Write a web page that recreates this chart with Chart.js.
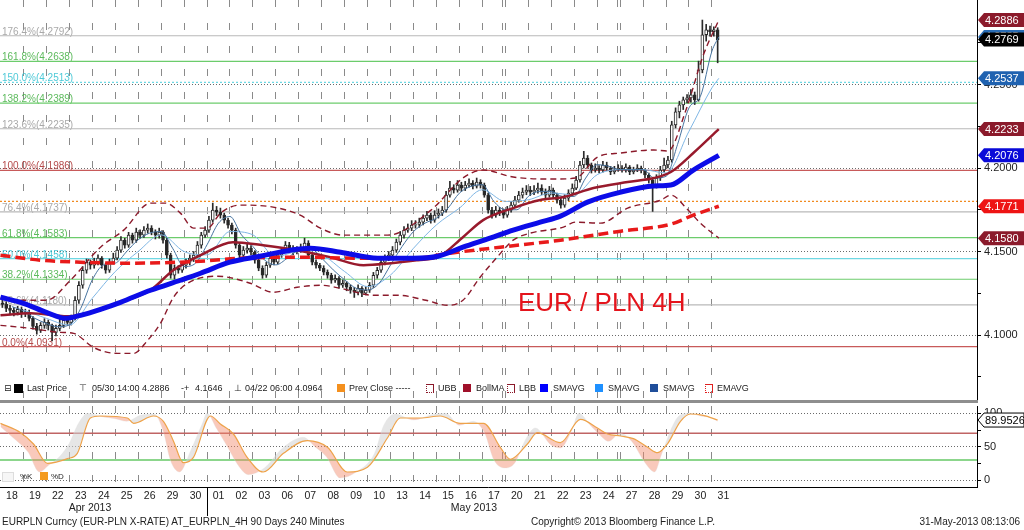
<!DOCTYPE html>
<html><head><meta charset="utf-8"><title>EURPLN 4H</title>
<script src="https://cdn.jsdelivr.net/npm/chart.js@4.4.1/dist/chart.umd.min.js"></script>
<style>
html,body{margin:0;padding:0;background:#fff;}
body{width:1024px;height:530px;position:relative;overflow:hidden;font-family:"Liberation Sans",Arial,sans-serif;color:#222;}
canvas{position:absolute;left:0;}
#c1{top:0;} #c2{top:403px;}
#sep{position:absolute;left:0;top:400px;width:978px;height:3px;background:#8e8e8e;}
.t{position:absolute;white-space:nowrap;line-height:11px;}
.lg{top:383px;font-size:9px;}
.sq{position:absolute;width:8px;height:8px;top:384px;}
.bx{position:absolute;width:6px;height:7px;top:384px;border-top:1px solid #8b1a2b;border-right:1px solid #8b1a2b;border-bottom:1px dotted #8b1a2b;border-left:1px dotted #8b1a2b;}
.ft{top:516px;font-size:10px;line-height:12px;}
</style></head><body>
<canvas id="c1" width="1024" height="400"></canvas>
<div id="sep"></div>
<canvas id="c2" width="1024" height="127"></canvas>

<span class="t lg" style="left:4px;font-family:'DejaVu Sans'">⊟</span>
<div class="sq" style="left:14px;background:#000;width:9px;height:9px;"></div>
<span class="t lg" style="left:27px">Last Price</span>
<span class="t lg" style="left:79px;font-family:'DejaVu Sans'">⊤</span>
<span class="t lg" style="left:92px">05/30 14:00 4.2886</span>
<span class="t lg" style="left:181px">-+</span>
<span class="t lg" style="left:195px">4.1646</span>
<span class="t lg" style="left:234px;font-family:'DejaVu Sans'">⊥</span>
<span class="t lg" style="left:245px">04/22 06:00 4.0964</span>
<div class="sq" style="left:337px;background:#f4901e"></div>
<span class="t lg" style="left:349px">Prev Close -----</span>
<div class="bx" style="left:426px"></div>
<span class="t lg" style="left:438px">UBB</span>
<div class="sq" style="left:463px;background:#a0102a"></div>
<span class="t lg" style="left:476px">BollMA</span>
<div class="bx" style="left:507px"></div>
<span class="t lg" style="left:519px">LBB</span>
<div class="sq" style="left:540px;background:#0000ff"></div>
<span class="t lg" style="left:553px">SMAVG</span>
<div class="sq" style="left:595px;background:#1e90ff"></div>
<span class="t lg" style="left:608px">SMAVG</span>
<div class="sq" style="left:650px;background:#1f4e9a"></div>
<span class="t lg" style="left:663px">SMAVG</span>
<div class="bx" style="left:705px;border-color:#e02020"></div>
<span class="t lg" style="left:717px">EMAVG</span>

<div style="position:absolute;left:2px;top:472px;width:10px;height:8px;background:#f6f6f6;border:1px solid #ddd"></div>
<span class="t" style="left:20px;top:471px;font-size:8px">%K</span>
<div style="position:absolute;left:40px;top:472px;width:8px;height:8px;background:#f49a1e"></div>
<span class="t" style="left:51px;top:471px;font-size:8px">%D</span>

<span class="t ft" style="left:2px">EURPLN Curncy (EUR-PLN X-RATE) AT_EURPLN_4H 90 Days 240 Minutes</span>
<span class="t ft" style="left:531px">Copyright© 2013 Bloomberg Finance L.P.</span>
<span class="t ft" style="right:4px">31-May-2013 08:13:06</span>

<script>
// ---------- DATA ----------
const dayLabels = ['18','19','22','23','24','25','26','29','30','01','02','03','06','07','08','09','10','13','14','15','16','17','20','21','22','23','24','27','28','29','30','31'];
const monthLabels = ['Apr 2013', 'May 2013'];
const monthAnchors = [3.9, 20.63];   // in trading-day units

// 4-hour candles, 6 per trading day
const opens = [
4.1190,4.1184,4.1160,4.1148,4.1136,4.1154, 4.1130,4.1136,4.1100,4.1052,4.1028,4.1058,
4.1076,4.1058,4.1016,4.1040,4.1058,4.1088, 4.1076,4.1100,4.1208,4.1298,4.1388,4.1436,
4.1418,4.1436,4.1460,4.1418,4.1388,4.1436, 4.1460,4.1508,4.1568,4.1538,4.1598,4.1568,
4.1616,4.1598,4.1628,4.1640,4.1616,4.1598, 4.1616,4.1568,4.1478,4.1358,4.1400,4.1388,
4.1418,4.1436,4.1460,4.1478,4.1538,4.1598, 4.1628,4.1688,4.1748,4.1736,4.1718,4.1688,
4.1658,4.1628,4.1538,4.1478,4.1508,4.1520, 4.1496,4.1448,4.1400,4.1358,4.1418,4.1460,
4.1436,4.1478,4.1508,4.1538,4.1520,4.1496, 4.1508,4.1520,4.1550,4.1478,4.1436,4.1418,
4.1400,4.1376,4.1358,4.1328,4.1340,4.1298, 4.1310,4.1286,4.1268,4.1256,4.1280,4.1250,
4.1268,4.1298,4.1358,4.1388,4.1436,4.1460, 4.1478,4.1508,4.1556,4.1598,4.1628,4.1640,
4.1658,4.1662,4.1676,4.1700,4.1718,4.1688, 4.1718,4.1730,4.1748,4.1838,4.1880,4.1868,
4.1898,4.1880,4.1898,4.1910,4.1892,4.1916, 4.1898,4.1838,4.1748,4.1718,4.1748,4.1736,
4.1718,4.1748,4.1778,4.1808,4.1838,4.1856, 4.1868,4.1856,4.1868,4.1880,4.1856,4.1838,
4.1868,4.1838,4.1808,4.1778,4.1820,4.1850, 4.1880,4.1928,4.2018,4.2060,4.2018,4.1988,
4.2000,4.1988,4.2018,4.2000,4.1976,4.1988, 4.2000,4.1988,4.2006,4.1976,4.1988,4.2000,
4.1988,4.1958,4.1928,4.1898,4.1940,4.1988, 4.2018,4.2048,4.2258,4.2336,4.2378,4.2408,
4.2420,4.2438,4.2408,4.2588,4.2798,4.2828, 4.2816,4.2828];
const closes = [
4.1184,4.1160,4.1148,4.1136,4.1154,4.1130, 4.1136,4.1100,4.1052,4.1028,4.1058,4.1076,
4.1058,4.1016,4.1040,4.1058,4.1088,4.1076, 4.1100,4.1208,4.1298,4.1388,4.1436,4.1418,
4.1436,4.1460,4.1418,4.1388,4.1436,4.1460, 4.1508,4.1568,4.1538,4.1598,4.1568,4.1616,
4.1598,4.1628,4.1640,4.1616,4.1598,4.1616, 4.1568,4.1478,4.1358,4.1400,4.1388,4.1418,
4.1436,4.1460,4.1478,4.1538,4.1598,4.1628, 4.1688,4.1748,4.1736,4.1718,4.1688,4.1658,
4.1628,4.1538,4.1478,4.1508,4.1520,4.1496, 4.1448,4.1400,4.1358,4.1418,4.1460,4.1436,
4.1478,4.1508,4.1538,4.1520,4.1496,4.1508, 4.1520,4.1550,4.1478,4.1436,4.1418,4.1400,
4.1376,4.1358,4.1328,4.1340,4.1298,4.1310, 4.1286,4.1268,4.1256,4.1280,4.1250,4.1268,
4.1298,4.1358,4.1388,4.1436,4.1460,4.1478, 4.1508,4.1556,4.1598,4.1628,4.1640,4.1658,
4.1662,4.1676,4.1700,4.1718,4.1688,4.1718, 4.1730,4.1748,4.1838,4.1880,4.1868,4.1898,
4.1880,4.1898,4.1910,4.1892,4.1916,4.1898, 4.1838,4.1748,4.1718,4.1748,4.1736,4.1718,
4.1748,4.1778,4.1808,4.1838,4.1856,4.1868, 4.1856,4.1868,4.1880,4.1856,4.1838,4.1868,
4.1838,4.1808,4.1778,4.1820,4.1850,4.1880, 4.1928,4.2018,4.2060,4.2018,4.1988,4.2000,
4.1988,4.2018,4.2000,4.1976,4.1988,4.2000, 4.1988,4.2006,4.1976,4.1988,4.2000,4.1988,
4.1958,4.1928,4.1898,4.1940,4.1988,4.2018, 4.2048,4.2258,4.2336,4.2378,4.2408,4.2420,
4.2438,4.2408,4.2588,4.2798,4.2828,4.2816, 4.2828,4.2769];
const highs = [
4.1215,4.1200,4.1178,4.1165,4.1172,4.1168, 4.1155,4.1150,4.1110,4.1070,4.1075,4.1098,
4.1090,4.1065,4.1060,4.1110,4.1105,4.1100, 4.1120,4.1230,4.1320,4.1410,4.1455,4.1450,
4.1460,4.1480,4.1470,4.1430,4.1455,4.1490, 4.1530,4.1590,4.1580,4.1615,4.1610,4.1640,
4.1630,4.1650,4.1665,4.1655,4.1630,4.1640, 4.1625,4.1580,4.1490,4.1420,4.1415,4.1440,
4.1455,4.1480,4.1500,4.1560,4.1615,4.1650, 4.1710,4.1790,4.1770,4.1760,4.1730,4.1700,
4.1670,4.1640,4.1555,4.1530,4.1545,4.1535, 4.1505,4.1460,4.1415,4.1435,4.1480,4.1475,
4.1500,4.1525,4.1560,4.1555,4.1535,4.1530, 4.1545,4.1580,4.1565,4.1490,4.1450,4.1430,
4.1415,4.1390,4.1370,4.1360,4.1350,4.1330, 4.1320,4.1300,4.1285,4.1300,4.1290,4.1290,
4.1315,4.1375,4.1405,4.1455,4.1480,4.1500, 4.1530,4.1575,4.1620,4.1650,4.1665,4.1685,
4.1685,4.1700,4.1720,4.1740,4.1730,4.1745, 4.1755,4.1770,4.1860,4.1920,4.1900,4.1925,
4.1915,4.1920,4.1935,4.1925,4.1940,4.1930, 4.1910,4.1850,4.1765,4.1770,4.1765,4.1755,
4.1770,4.1800,4.1830,4.1860,4.1880,4.1895, 4.1890,4.1895,4.1910,4.1900,4.1875,4.1890,
4.1880,4.1850,4.1820,4.1840,4.1870,4.1905, 4.1950,4.2040,4.2100,4.2075,4.2030,4.2025,
4.2015,4.2040,4.2035,4.2010,4.2010,4.2020, 4.2015,4.2025,4.2015,4.2005,4.2020,4.2012,
4.1995,4.1970,4.1940,4.1960,4.2010,4.2060, 4.2070,4.2280,4.2360,4.2400,4.2425,4.2440,
4.2470,4.2455,4.2640,4.2886,4.2860,4.2850, 4.2845,4.2840];
const lows = [
4.1165,4.1140,4.1120,4.1115,4.1120,4.1105, 4.1110,4.1085,4.1035,4.1005,4.1015,4.1040,
4.1030,4.0964,4.0995,4.1025,4.1045,4.1060, 4.1060,4.1090,4.1190,4.1280,4.1370,4.1395,
4.1400,4.1420,4.1400,4.1370,4.1375,4.1425, 4.1450,4.1495,4.1520,4.1525,4.1550,4.1555,
4.1580,4.1585,4.1610,4.1600,4.1575,4.1580, 4.1550,4.1460,4.1340,4.1335,4.1370,4.1375,
4.1400,4.1420,4.1440,4.1465,4.1520,4.1585, 4.1615,4.1675,4.1715,4.1700,4.1670,4.1640,
4.1605,4.1520,4.1455,4.1465,4.1490,4.1480, 4.1430,4.1385,4.1340,4.1345,4.1405,4.1420,
4.1425,4.1465,4.1495,4.1505,4.1480,4.1485, 4.1495,4.1505,4.1465,4.1420,4.1400,4.1385,
4.1360,4.1340,4.1310,4.1315,4.1280,4.1285, 4.1265,4.1250,4.1225,4.1240,4.1230,4.1240,
4.1255,4.1285,4.1340,4.1375,4.1420,4.1445, 4.1465,4.1495,4.1540,4.1580,4.1615,4.1625,
4.1640,4.1645,4.1660,4.1685,4.1670,4.1675, 4.1700,4.1715,4.1735,4.1825,4.1850,4.1855,
4.1860,4.1865,4.1885,4.1875,4.1880,4.1880, 4.1825,4.1730,4.1700,4.1705,4.1715,4.1700,
4.1705,4.1735,4.1765,4.1795,4.1820,4.1840, 4.1835,4.1840,4.1850,4.1840,4.1820,4.1825,
4.1820,4.1790,4.1760,4.1765,4.1805,4.1835, 4.1870,4.1915,4.2000,4.2000,4.1970,4.1975,
4.1970,4.1975,4.1985,4.1960,4.1965,4.1980, 4.1975,4.1975,4.1960,4.1965,4.1978,4.1970,
4.1940,4.1910,4.1740,4.1880,4.1925,4.1975, 4.2000,4.2035,4.2240,4.2300,4.2350,4.2390,
4.2395,4.2380,4.2400,4.2570,4.2760,4.2790, 4.2790,4.2630];

// indicators: [trading day, value]
const smaThick = [[0,4.1226],[1,4.1190],[2,4.1136],[2.84,4.1100],[3.49,4.1118],[4.36,4.1154],[5.23,4.1196],[6.54,4.1268],[7.84,4.1328],[8.72,4.1370],[10.0,4.1436],[11.31,4.1472],[12.64,4.1508],[13.5,4.1520],[14.82,4.1496],[16.44,4.1460],[18.0,4.1460],[19.06,4.1472],[20.15,4.1526],[21.33,4.1580],[22.34,4.1628],[23.52,4.1676],[24.4,4.1712],[25.58,4.1796],[27.03,4.1856],[28.47,4.1892],[29.21,4.1898],[30.19,4.1988],[31.3,4.2076]];
const emaLine = [[0,4.1478],[1.75,4.1448],[3.48,4.1436],[5.65,4.1430],[8.72,4.1442],[10.44,4.1460],[13.06,4.1466],[15.69,4.1460],[18.01,4.1460],[19.58,4.1490],[21.77,4.1526],[24.4,4.1568],[27.03,4.1622],[29.21,4.1664],[30.19,4.1718],[31.3,4.1771]];
const bollMA = [[0,4.1118],[1.31,4.1130],[2.92,4.1112],[3.92,4.1136],[5.1,4.1190],[6.53,4.1268],[7.53,4.1388],[8.72,4.1478],[10.13,4.1556],[11.44,4.1538],[12.93,4.1508],[14.38,4.1466],[15.82,4.1418],[17.01,4.1430],[18.19,4.1448],[19.06,4.1466],[20.15,4.1586],[21.03,4.1688],[22.34,4.1760],[23.52,4.1808],[24.53,4.1826],[25.84,4.1880],[27.33,4.1916],[28.47,4.1940],[29.21,4.1976],[30.19,4.2090],[31.3,4.2233]];
const upperBand = [[0,4.1220],[1.0,4.1208],[2.0,4.1208],[3.05,4.1328],[4.36,4.1526],[5.37,4.1628],[6.54,4.1790],[7.19,4.1790],[7.84,4.1730],[8.41,4.1640],[9.02,4.1640],[9.59,4.1730],[10.44,4.1778],[11.88,4.1766],[13.06,4.1718],[13.94,4.1640],[14.95,4.1598],[16.87,4.1598],[18.76,4.1748],[20.15,4.1940],[21.03,4.1988],[22.34,4.1946],[24.09,4.1934],[25.06,4.1940],[26.02,4.2066],[27.03,4.2090],[28.47,4.2108],[29.08,4.2102],[29.87,4.2348],[30.63,4.2678],[31.3,4.2886]];
const lowerBand = [[0,4.1058],[1.31,4.1040],[2.62,4.1016],[3.19,4.1010],[4.05,4.0926],[5.1,4.0890],[5.8,4.0890],[6.41,4.0968],[6.97,4.1070],[7.54,4.1226],[8.15,4.1310],[9.46,4.1352],[10.88,4.1310],[11.88,4.1256],[12.93,4.1286],[13.94,4.1298],[14.82,4.1280],[16.26,4.1238],[17.31,4.1238],[18.54,4.1208],[19.5,4.1178],[20.15,4.1208],[20.9,4.1346],[21.64,4.1466],[22.34,4.1568],[23.08,4.1610],[24.53,4.1646],[25.06,4.1676],[26.15,4.1670],[27.33,4.1760],[28.78,4.1808],[29.21,4.1838],[29.96,4.1748],[30.5,4.1670],[31.3,4.1580]];
const smaMedium = [[1,4.1150],[2,4.1100],[3,4.1060],[4,4.1220],[5,4.1380],[6,4.1500],[7,4.1600],[8,4.1500],[9,4.1480],[10,4.1620],[11,4.1600],[12,4.1470],[13,4.1500],[14,4.1480],[15,4.1380],[16,4.1290],[17,4.1360],[18,4.1520],[19,4.1660],[20,4.1760],[21,4.1870],[22,4.1800],[23,4.1810],[24,4.1850],[25,4.1840],[26,4.1960],[27,4.1990],[28,4.1990],[29,4.1970],[30,4.2220],[31,4.2480],[31.3,4.2537]];
const smaFast = [[0.5,4.117],[1,4.1145],[1.5,4.110],[2,4.107],[2.5,4.105],[3,4.106],[3.5,4.116],[4,4.133],[4.5,4.142],[5,4.143],[5.5,4.150],[6,4.157],[6.5,4.161],[7,4.162],[7.5,4.152],[8,4.141],[8.5,4.143],[9,4.154],[9.5,4.167],[10,4.171],[10.5,4.160],[11,4.153],[11.5,4.145],[12,4.142],[12.5,4.146],[13,4.151],[13.5,4.152],[14,4.146],[14.5,4.139],[15,4.133],[15.5,4.128],[16,4.127],[16.5,4.131],[17,4.142],[17.5,4.153],[18,4.162],[18.5,4.167],[19,4.170],[19.5,4.176],[20,4.185],[20.5,4.189],[21,4.190],[21.5,4.180],[22,4.175],[22.5,4.175],[23,4.183],[23.5,4.186],[24,4.186],[24.5,4.183],[25,4.183],[25.5,4.194],[26,4.202],[26.5,4.201],[27,4.199],[27.5,4.199],[28,4.199],[28.5,4.194],[29,4.195],[29.5,4.214],[30,4.236],[30.5,4.243],[31,4.270],[31.3,4.2785]];

const prevClose = 4.1800;
const fibPct = ['176.4%','161.8%','150.0%','138.2%','123.6%','100.0%','76.4%','61.8%','50.0%','38.2%','23.6%','0.0%'];
const fibLevels = [4.2792,4.2638,4.2513,4.2389,4.2235,4.1986,4.1737,4.1583,4.1458,4.1334,4.1180,4.0931];

const tagValues = [4.2886, 4.2785, 4.2769, 4.2537, 4.2233, 4.2076, 4.1771, 4.1580];

// stochastic (trading day, value)
const stochD = [[0,85],[0.88,71],[1.44,54],[2.05,25],[2.92,32],[3.35,40],[3.92,93],[4.36,96],[5.53,93],[5.8,85],[6.67,96],[7.1,88],[7.53,59],[7.97,26],[8.41,34],[9.15,96],[9.58,84],[10.15,69],[10.75,34],[11.45,12],[12.33,40],[13.37,59],[14.25,49],[15.11,12],[15.99,19],[16.86,63],[17.42,93],[18.3,93],[19.16,96],[20.04,85],[21.05,85],[21.78,49],[22.22,31],[22.96,54],[23.39,71],[24.4,56],[25.27,91],[26.01,78],[26.45,69],[27.02,66],[27.58,62],[28.2,49],[28.63,41],[29.06,54],[29.63,88],[30.06,99],[30.63,97],[31.25,89.95]];
const stochK = [[0,80],[0.6,62],[1.2,42],[1.7,12],[2.1,22],[2.6,36],[3.0,55],[3.4,85],[3.8,100],[4.4,95],[5.0,92],[5.5,88],[6.1,97],[6.7,99],[7.1,72],[7.4,30],[7.8,12],[8.3,45],[8.8,85],[9.0,100],[9.4,78],[9.8,55],[10.4,20],[10.8,8],[11.5,18],[12.3,48],[13.2,64],[13.7,50],[14.2,35],[14.8,3],[15.5,12],[16.3,40],[16.7,82],[17.2,99],[18.0,90],[18.8,98],[19.4,100],[20.0,82],[20.6,88],[21.1,70],[21.5,30],[22.0,18],[22.4,25],[22.9,62],[23.3,78],[24.0,52],[24.4,48],[24.9,75],[25.2,100],[25.7,82],[26.1,68],[26.5,58],[27.0,70],[27.5,58],[28.1,25],[28.5,12],[28.8,38],[29.3,82],[29.6,97],[30.0,100],[30.5,96],[31.0,93],[31.25,88]];
const stochUpper = 70, stochLower = 30, stochLast = 89.9526;

// ---------- CHART ----------
Chart.defaults.font.family = '"Liberation Sans", Arial, sans-serif';
Chart.defaults.font.size = 11;
Chart.defaults.color = '#222';

const X_MIN = -0.02, X_MAX = 42.55;
const Y_MIN = 4.0611, Y_MAX = 4.3006;
const pts = a => a.map(([x, y]) => ({x, y}));
const hline = v => [{x: X_MIN, y: v}, {x: X_MAX, y: v}];
const barX = i => (i + 0.5) / 6;
const isMajor = v => Math.abs(v * 20 - Math.round(v * 20)) < 1e-6;
const dayGrid = [];
for (let d = 1; d <= 31; d++) dayGrid.push(d);
dayGrid.push(21.87, 26.87);
dayGrid.sort((a, b) => a - b);

const lineDs = (data, color, width, dash, extra) => Object.assign({
  type: 'line', data, borderColor: color, borderWidth: width, borderDash: dash || [],
  pointRadius: 0, fill: false, cubicInterpolationMode: 'monotone', borderCapStyle: 'butt'
}, extra || {});

const fibColors = ['#b9b9b9','#6ccc6c','#6fd8e3','#6ccc6c','#b9b9b9','#c85a5a','#b9b9b9','#6ccc6c','#6fd8e3','#6ccc6c','#b9b9b9','#c85a5a'];
const fibTextColors = ['#9a9a9a','#3fae3f','#2fc0d0','#3fae3f','#9a9a9a','#a82a2a','#9a9a9a','#3fae3f','#2fc0d0','#3fae3f','#9a9a9a','#a82a2a'];

const datasets = [
  lineDs(pts(smaThick), '#0c0ce8', 5),
  lineDs(pts(emaLine), '#e81a1a', 3.5, [10, 5]),
  lineDs(pts(bollMA), '#981a2c', 2.5),
  lineDs(pts(smaFast), '#47739f', 1),
  lineDs(pts(smaMedium), '#7fb6e4', 1),
  lineDs(pts(upperBand), '#8b1a2b', 1.4, [6, 4]),
  lineDs(pts(lowerBand), '#8b1a2b', 1.4, [6, 4]),
  { type: 'bar', data: closes.map((c, i) => ({x: barX(i), y: [opens[i], c]})),
    backgroundColor: closes.map((c, i) => c >= opens[i] ? '#ffffff' : '#262626'),
    borderColor: '#2a2a2a', borderWidth: 1, borderSkipped: false, barThickness: 3, grouped: false },
  { type: 'bar', data: closes.map((c, i) => ({x: barX(i), y: [lows[i], highs[i]]})),
    backgroundColor: '#2a2a2a', borderWidth: 0, barThickness: 1, grouped: false },
  lineDs(hline(prevClose), '#f08a20', 1.2, [2, 2])
];
fibLevels.forEach((v, i) => datasets.push(lineDs(hline(v), fibColors[i], 1.2, i === 2 ? [2, 2] : [])));

function drawTag(ctx, x0, y, text, fill, stroke, tc) {
  const h = 14, w = 46;
  ctx.save();
  ctx.beginPath();
  ctx.moveTo(x0, y); ctx.lineTo(x0 + 6, y - h / 2); ctx.lineTo(x0 + w, y - h / 2);
  ctx.lineTo(x0 + w, y + h / 2); ctx.lineTo(x0 + 6, y + h / 2); ctx.closePath();
  ctx.fillStyle = fill; ctx.fill();
  if (stroke) { ctx.strokeStyle = stroke; ctx.lineWidth = 1; ctx.stroke(); }
  ctx.fillStyle = tc; ctx.font = '11px "Liberation Sans", Arial'; ctx.textBaseline = 'middle'; ctx.textAlign = 'left';
  ctx.fillText(text, x0 + 7, y + 0.5);
  ctx.restore();
}
const tagFills = ['#8b1a2b','#2a6db5','#000000','#1f62b0','#8b1a2b','#0a0ad8','#ee1414','#8b1a2b'];

const topDecor = {
  id: 'topDecor',
  beforeDatasetsDraw(chart) {
    const ctx = chart.ctx, y = chart.scales.y;
    ctx.save();
    ctx.font = '10px "Liberation Sans", Arial';
    ctx.textBaseline = 'alphabetic'; ctx.textAlign = 'left';
    ctx.globalAlpha = 0.85;
    fibLevels.forEach((v, i) => {
      ctx.fillStyle = fibTextColors[i];
      ctx.fillText(fibPct[i] + '(' + v.toFixed(4) + ')', 2, y.getPixelForValue(v) - 1);
    });
    ctx.restore();
  },
  afterDatasetsDraw(chart) {
    const ctx = chart.ctx;
    ctx.save();
    ctx.font = '26px "Liberation Sans", Arial';
    ctx.fillStyle = '#e4141c'; ctx.textBaseline = 'alphabetic'; ctx.textAlign = 'left';
    ctx.fillText('EUR / PLN 4H', 518, 311);
    ctx.restore();
  },
  afterDraw(chart) {
    const ctx = chart.ctx, y = chart.scales.y, x0 = chart.chartArea.right + 1;
    tagValues.forEach((v, i) => drawTag(ctx, x0, y.getPixelForValue(v), v.toFixed(4), tagFills[i], null, '#ffffff'));
  }
};

new Chart(document.getElementById('c1'), {
  type: 'line',
  data: { datasets },
  plugins: [topDecor],
  options: {
    responsive: false, animation: false, devicePixelRatio: 1,
    layout: { padding: 0, autoPadding: false },
    plugins: { legend: { display: false }, tooltip: { enabled: false } },
    scales: {
      x: {
        type: 'linear', min: X_MIN, max: X_MAX, offset: false,
        ticks: { display: false, autoSkip: false },
        grid: { color: '#8a8a8a', lineWidth: 1, drawTicks: false, offset: false },
        border: { display: false, dash: [7, 16] },
        afterBuildTicks: s => { s.ticks = dayGrid.map(v => ({value: v})); },
        afterFit: s => { s.height = 0; s.paddingLeft = 0; s.paddingRight = 0; }
      },
      y: {
        type: 'linear', position: 'right', min: Y_MIN, max: Y_MAX,
        ticks: { autoSkip: false, padding: 3, color: '#222', font: { size: 11 },
                 callback: v => isMajor(v) ? v.toFixed(4) : '' },
        grid: { color: c => (c.tick && isMajor(c.tick.value)) ? '#6a6a6a' : 'rgba(0,0,0,0)',
                tickColor: '#000', tickLength: 4, lineWidth: 1 },
        border: { display: true, color: '#000', width: 1, dash: [1, 2] },
        afterBuildTicks: s => {
          const t = []; for (let k = 0; k <= 8; k++) t.push({value: +(4.075 + 0.025 * k).toFixed(3)});
          s.ticks = t;
        },
        afterFit: s => { s.width = 47; s.paddingTop = 0; s.paddingBottom = 0; }
      }
    }
  }
});

// ---------- STOCHASTIC PANEL ----------
const botDecor = {
  id: 'botDecor',
  afterDraw(chart) {
    const ctx = chart.ctx, a = chart.chartArea, xs = chart.scales.x, ys = chart.scales.y;
    ctx.save();
    ctx.strokeStyle = '#000'; ctx.lineWidth = 1;
    ctx.beginPath(); ctx.moveTo(0, a.bottom + 0.5); ctx.lineTo(a.right, a.bottom + 0.5); ctx.stroke();
    const mx = Math.round(xs.getPixelForValue(9)) + 0.5;
    ctx.beginPath(); ctx.moveTo(mx, a.bottom); ctx.lineTo(mx, a.bottom + 29); ctx.stroke();
    ctx.font = '10.5px "Liberation Sans", Arial'; ctx.fillStyle = '#222';
    ctx.textAlign = 'center'; ctx.textBaseline = 'middle';
    monthLabels.forEach((m, i) => ctx.fillText(m, xs.getPixelForValue(monthAnchors[i]), a.bottom + 21));
    ctx.restore();
    drawTag(ctx, a.right + 1, ys.getPixelForValue(stochLast), stochLast.toFixed(4), '#ffffff', '#000000', '#000000');
  }
};

new Chart(document.getElementById('c2'), {
  type: 'line',
  data: { datasets: [
    lineDs(pts(stochD), '#eea34a', 1.2),
    lineDs(pts(stochK), 'rgba(225,225,225,0.6)', 0.5, [], {
      fill: { target: 0, above: 'rgba(210,210,210,0.55)', below: 'rgba(242,135,105,0.45)' } }),
    lineDs(hline(stochUpper), '#c06464', 1.5),
    lineDs(hline(stochLower), '#66c866', 1.5)
  ]},
  plugins: [botDecor],
  options: {
    responsive: false, animation: false, devicePixelRatio: 1,
    layout: { padding: { top: 3, left: 0, right: 0, bottom: 0 }, autoPadding: false },
    plugins: { legend: { display: false }, tooltip: { enabled: false } },
    scales: {
      x: {
        type: 'linear', min: X_MIN, max: X_MAX, offset: false,
        ticks: { display: false, autoSkip: false },
        grid: { color: '#8a8a8a', lineWidth: 1, drawTicks: false, offset: false },
        border: { display: false, dash: [7, 16] },
        afterBuildTicks: s => { s.ticks = dayGrid.map(v => ({value: v})); },
        afterFit: s => { s.height = 0; s.paddingLeft = 0; s.paddingRight = 0; }
      },
      x2: {
        type: 'linear', position: 'bottom', min: X_MIN, max: X_MAX, offset: false,
        ticks: { autoSkip: false, maxRotation: 0, padding: 3, color: '#222', font: { size: 10.5 },
                 callback: (v, i) => dayLabels[i] },
        grid: { display: false, drawTicks: false },
        border: { display: false },
        afterBuildTicks: s => { s.ticks = dayLabels.map((_, i) => ({value: i + 0.5})); },
        afterFit: s => { s.height = 43; s.paddingLeft = 0; s.paddingRight = 0; }
      },
      y: {
        type: 'linear', position: 'right', min: -10.5, max: 111,
        ticks: { autoSkip: false, padding: 3, color: '#222', font: { size: 11 },
                 callback: v => (v % 50 === 0) ? String(v) : '' },
        grid: { color: c => (c.tick && c.tick.value % 50 === 0) ? '#6a6a6a' : 'rgba(0,0,0,0)',
                tickColor: '#000', tickLength: 4 },
        border: { display: true, color: '#000', width: 1, dash: [1, 2] },
        afterBuildTicks: s => { s.ticks = [0, 25, 50, 75, 100].map(v => ({value: v})); },
        afterFit: s => { s.width = 47; s.paddingTop = 0; s.paddingBottom = 0; }
      }
    }
  }
});
</script>
</body></html>
